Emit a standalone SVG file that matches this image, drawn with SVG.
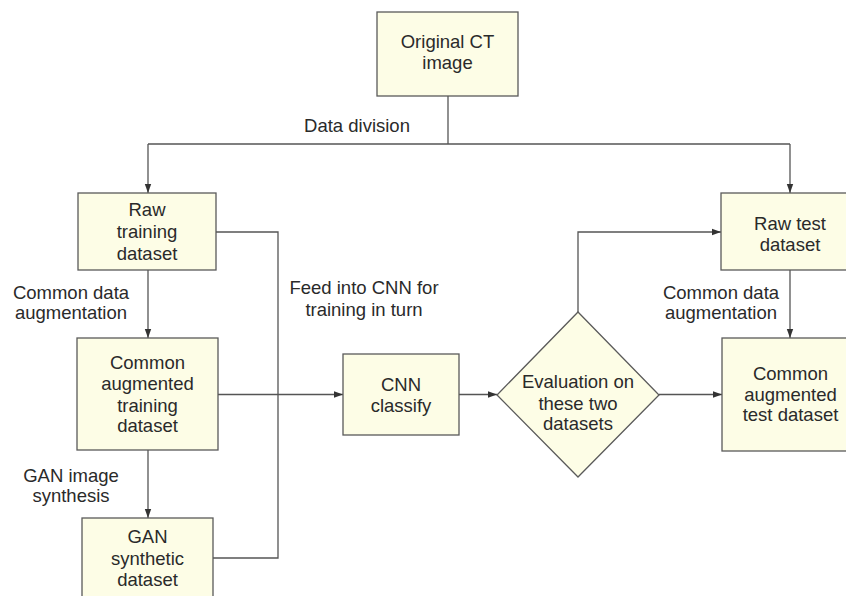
<svg xmlns="http://www.w3.org/2000/svg" width="846" height="596" viewBox="0 0 846 596">
<style>
.box{fill:#fdfde6;stroke:#5a5a5a;stroke-width:1.3}
.ln{fill:none;stroke:#555;stroke-width:1.3}
.t{font-family:"Liberation Sans",Arial,sans-serif;font-size:18.5px;fill:#2a2a2a;text-anchor:middle}
</style>
<defs>
<marker id="ah" markerWidth="9" markerHeight="8" refX="9" refY="4" orient="auto" markerUnits="userSpaceOnUse">
<path d="M0,0.8 L9,4 L0,7.2 Z" fill="#333"/>
</marker>
</defs>
<rect width="846" height="596" fill="#ffffff"/>
<g id="connectors">
<path class="ln" d="M448,96 V144"/>
<path class="ln" d="M148,144 H790"/>
<path class="ln" d="M148,144 V193" marker-end="url(#ah)"/>
<path class="ln" d="M790,144 V193" marker-end="url(#ah)"/>
<path class="ln" d="M148,270 V338" marker-end="url(#ah)"/>
<path class="ln" d="M148,450 V518" marker-end="url(#ah)"/>
<path class="ln" d="M216,232 H278 V558 H213"/>
<path class="ln" d="M218,394.5 H343" marker-end="url(#ah)"/>
<path class="ln" d="M459,394.5 H497" marker-end="url(#ah)"/>
<path class="ln" d="M659,394.5 H722" marker-end="url(#ah)"/>
<path class="ln" d="M578,312 V232 H721" marker-end="url(#ah)"/>
<path class="ln" d="M790,270 V338" marker-end="url(#ah)"/>
</g>
<g id="labels">
<text class="t" x="357" y="132">Data division</text>
<text class="t" x="71" y="299">Common data</text>
<text class="t" x="71" y="319">augmentation</text>
<text class="t" x="71" y="482">GAN image</text>
<text class="t" x="71" y="502">synthesis</text>
<text class="t" x="364" y="294">Feed into CNN for</text>
<text class="t" x="364" y="316">training in turn</text>
<text class="t" x="721" y="299">Common data</text>
<text class="t" x="721" y="319">augmentation</text>
</g>
<g id="original-ct">
<rect class="box" x="377" y="12" width="141" height="84"/>
<text class="t" x="447.5" y="48">Original CT</text>
<text class="t" x="447.5" y="69">image</text>
</g>
<g id="raw-training">
<rect class="box" x="78" y="193" width="138" height="77"/>
<text class="t" x="147" y="216">Raw</text>
<text class="t" x="147" y="238">training</text>
<text class="t" x="147" y="260">dataset</text>
</g>
<g id="common-aug-training">
<rect class="box" x="77" y="338" width="141" height="112"/>
<text class="t" x="147.5" y="369">Common</text>
<text class="t" x="147.5" y="390">augmented</text>
<text class="t" x="147.5" y="412">training</text>
<text class="t" x="147.5" y="432">dataset</text>
</g>
<g id="gan-synthetic">
<rect class="box" x="82" y="518" width="131" height="90"/>
<text class="t" x="147.5" y="543">GAN</text>
<text class="t" x="147.5" y="565">synthetic</text>
<text class="t" x="147.5" y="586">dataset</text>
</g>
<g id="cnn-classify">
<rect class="box" x="343" y="354" width="116" height="81"/>
<text class="t" x="401" y="391">CNN</text>
<text class="t" x="401" y="412">classify</text>
</g>
<g id="evaluation">
<polygon class="box" points="578,312 659,395 578,477 497,395"/>
<text class="t" x="578" y="388">Evaluation on</text>
<text class="t" x="578" y="410">these two</text>
<text class="t" x="578" y="430">datasets</text>
</g>
<g id="raw-test">
<rect class="box" x="721" y="193" width="140" height="77"/>
<text class="t" x="790" y="230">Raw test</text>
<text class="t" x="790" y="251">dataset</text>
</g>
<g id="common-aug-test">
<rect class="box" x="722" y="338" width="140" height="113"/>
<text class="t" x="790.5" y="380">Common</text>
<text class="t" x="790.5" y="401">augmented</text>
<text class="t" x="790.5" y="421">test dataset</text>
</g>
</svg>
